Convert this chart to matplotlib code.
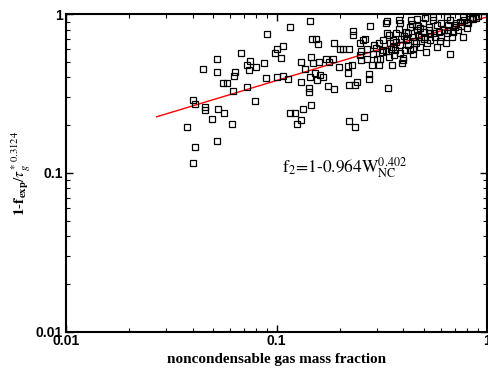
import matplotlib
matplotlib.use("Agg")
import matplotlib.pyplot as plt
from matplotlib.ticker import FixedLocator, FixedFormatter, LogLocator, NullFormatter

plt.rcParams['mathtext.fontset'] = 'stix'

# noncondensable gas mass fraction (x) and 1-f_exp/tau_g*^0.3124 (y)
wnc = [0.0378, 0.0403, 0.041, 0.0403, 0.041, 0.046, 0.046, 0.0446, 0.0497, 0.0524,
       0.0524, 0.0528, 0.052, 0.0563, 0.056, 0.058, 0.0615, 0.0624, 0.063, 0.0636,
       0.0675, 0.0722, 0.075, 0.0738, 0.0727, 0.0792, 0.0797, 0.0873, 0.0892, 0.0898,
       0.0988, 0.1003, 0.1054, 0.1077, 0.1003, 0.107,
       0.1133, 0.1159, 0.1159, 0.1219, 0.1246, 0.131, 0.133, 0.131, 0.130, 0.137,
       0.1425, 0.1436, 0.1425, 0.1458, 0.1436, 0.148, 0.154, 0.157, 0.146, 0.1495,
       0.153, 0.155, 0.1585, 0.161, 0.167, 0.171, 0.177, 0.175, 0.187, 0.186,
       0.187, 0.198, 0.20, 0.207, 0.22, 0.219, 0.227, 0.219, 0.22, 0.231,
       0.23, 0.236, 0.24, 0.22, 0.236, 0.259, 0.248, 0.253, 0.251, 0.258,
       0.263, 0.268, 0.274, 0.276, 0.278, 0.286, 0.295, 0.30, 0.306, 0.308,
       0.32, 0.33, 0.333, 0.333, 0.338, 0.341, 0.33, 0.343,
       0.358, 0.363, 0.368, 0.383, 0.383, 0.386, 0.394, 0.397, 0.403, 0.406,
       0.412, 0.421, 0.430, 0.440, 0.443, 0.446, 0.446, 0.457, 0.463, 0.470,
       0.477, 0.483, 0.494, 0.500, 0.508, 0.515, 0.511, 0.527, 0.534, 0.554,
       0.562, 0.575, 0.588, 0.597, 0.606, 0.620, 0.634, 0.641, 0.651, 0.663,
       0.668, 0.677, 0.690, 0.699, 0.714, 0.727, 0.742, 0.763, 0.772, 0.798,
       0.810, 0.828, 0.846, 0.859, 0.763, 0.641, 0.554, 0.504, 0.463, 0.433,
       0.385,
       0.284, 0.31, 0.346, 0.355, 0.385, 0.43, 0.358, 0.32, 0.479, 0.534,
       0.575, 0.412,
       0.29, 0.315, 0.35, 0.37, 0.39, 0.42, 0.45, 0.47, 0.50, 0.53,
       0.56, 0.60, 0.65, 0.70, 0.75, 0.80, 0.88, 0.90, 0.36, 0.40,
       0.27, 0.25]
ratio = [0.196, 0.289, 0.272, 0.115, 0.145, 0.26, 0.25, 0.45, 0.22, 0.526,
         0.43, 0.254, 0.158, 0.238, 0.367, 0.367, 0.205, 0.33, 0.41, 0.433,
         0.573, 0.477, 0.51, 0.446, 0.347, 0.286, 0.463, 0.491, 0.397, 0.752,
         0.568, 0.607, 0.53, 0.632, 0.401, 0.41,
         0.393, 0.836, 0.238, 0.24, 0.204, 0.216, 0.254, 0.5, 0.374, 0.45,
         0.343, 0.40, 0.324, 0.267, 0.903, 0.703, 0.703, 0.65, 0.541, 0.491,
         0.425, 0.386, 0.50, 0.413, 0.405, 0.526, 0.50, 0.353, 0.337, 0.52,
         0.663, 0.468, 0.607, 0.60, 0.60, 0.472, 0.48, 0.425, 0.357, 0.78,
         0.745, 0.357, 0.374, 0.212, 0.194, 0.226, 0.663, 0.585, 0.516, 0.689,
         0.695, 0.526, 0.42, 0.393, 0.844, 0.562, 0.613, 0.526, 0.477, 0.656,
         0.689, 0.878, 0.912, 0.766, 0.343, 0.536, 0.585, 0.737,
         0.689, 0.596, 0.759, 0.921, 0.805, 0.637, 0.491, 0.516, 0.730, 0.596,
         0.774, 0.759, 0.836, 0.869, 0.716, 0.607, 0.562, 0.656, 0.797, 0.844,
         0.820, 0.723, 0.886, 0.774, 0.723, 0.656, 0.579, 0.836, 0.766, 0.921,
         0.723, 0.852, 0.774, 0.676, 0.878, 0.797, 0.656, 0.759, 0.852, 0.921,
         0.562, 0.716, 0.774, 0.836, 0.878, 0.797, 0.894, 0.716, 0.921, 0.820,
         0.878, 0.939, 0.948, 0.930, 0.967, 0.967, 0.967, 0.944, 0.939, 0.921,
         0.878,
         0.477, 0.526, 0.656, 0.477, 0.568, 0.596, 0.625, 0.596, 0.625, 0.689,
         0.625, 0.689,
         0.64, 0.58, 0.60, 0.67, 0.70, 0.64, 0.68, 0.74, 0.70, 0.80,
         0.76, 0.72, 0.80, 0.86, 0.84, 0.90, 0.95, 0.97, 0.55, 0.53,
         0.60, 0.55]

# fitted correlation line (end points)
fit_x = [0.027, 1.0]
fit_y = [0.226, 0.964]

tick_vals = [0.01, 0.1, 1]
tick_labels = ["0.01", "0.1", "1"]

fig = plt.figure(figsize=(4.88, 3.71), dpi=100)
ax = fig.add_axes([0.1346, 0.106, 0.8640, 0.8555])

ax.plot(fit_x, fit_y, color='red', lw=1.0, zorder=2)
ax.plot(wnc, ratio, linestyle='none', marker='s', markersize=4.6,
        markerfacecolor='none', markeredgecolor='black', markeredgewidth=0.9, zorder=3)

ax.set_xscale('log')
ax.set_yscale('log')
ax.set_xlim(0.01, 1)
ax.set_ylim(0.01, 1)

for axis in (ax.xaxis, ax.yaxis):
    axis.set_major_locator(FixedLocator(tick_vals))
    axis.set_major_formatter(FixedFormatter(tick_labels))
    axis.set_minor_locator(LogLocator(base=10, subs=range(2, 10)))
    axis.set_minor_formatter(NullFormatter())

ax.tick_params(which='both', direction='in', top=True, right=True, color='black')
ax.tick_params(which='major', length=5, width=1.0, pad=2)
ax.tick_params(which='minor', length=3, width=0.8)
for lab in ax.get_xticklabels() + ax.get_yticklabels():
    lab.set_fontfamily('Liberation Sans')
    lab.set_fontweight('bold')
    lab.set_fontsize(10)

for sp in ax.spines.values():
    sp.set_linewidth(1.5)

ax.set_xlabel('noncondensable gas mass fraction', fontfamily='Liberation Serif',
              fontweight='bold', fontsize=10.9, labelpad=3)
ax.set_ylabel(r'$\mathbf{1\text{-}f_{exp}}/\tau_{g}^{*\ 0.3124}$', fontsize=11, labelpad=2)

ax.text(0.106, 0.1, r'$\mathrm{f_{2}\!=\!1\text{-}0.964W_{NC}^{0.402}}$', fontsize=12.5,
        ha='left', va='baseline')

fig.savefig('out.png', dpi=100)
